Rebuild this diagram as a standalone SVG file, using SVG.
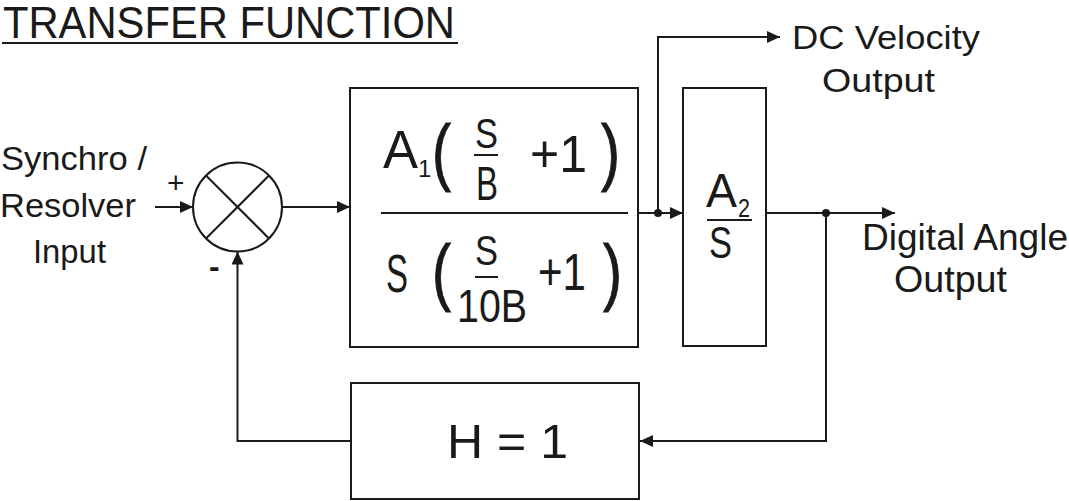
<svg xmlns="http://www.w3.org/2000/svg" width="1069" height="501" viewBox="0 0 1069 501">
<defs>
<marker id="arr" markerUnits="userSpaceOnUse" markerWidth="14" markerHeight="12" refX="13" refY="6" orient="auto">
<path d="M0,0 L13,6 L0,12 Z" fill="#1a1a1a"/>
</marker>
<style>
.ln{fill:none;stroke:#1a1a1a;stroke-width:2}
.box{fill:#fff;stroke:#1a1a1a;stroke-width:2}
text{font-family:"Liberation Sans",Arial,sans-serif;fill:#1a1a1a}
.lbl{font-size:34px}
.lbl2{font-size:36px}
.par{font-size:74px;stroke:#1a1a1a;stroke-width:1}
</style>
</defs>
<rect width="1069" height="501" fill="#fff"/>

<g id="title">
<text x="3" y="38" font-size="44" textLength="452" lengthAdjust="spacingAndGlyphs">TRANSFER FUNCTION</text>
<line x1="2" y1="43" x2="458" y2="43" class="ln"/>
</g>

<g id="input-label">
<text class="lbl" x="1" y="170" textLength="146" lengthAdjust="spacingAndGlyphs">Synchro /</text>
<text class="lbl" x="0" y="217" textLength="136" lengthAdjust="spacingAndGlyphs">Resolver</text>
<text class="lbl" x="33" y="263" textLength="73" lengthAdjust="spacingAndGlyphs">Input</text>
</g>

<g id="sum">
<circle cx="237.5" cy="207" r="44.5" class="ln"/>
<line x1="206" y1="175.5" x2="269" y2="238.5" class="ln"/>
<line x1="269" y1="175.5" x2="206" y2="238.5" class="ln"/>
<text x="167" y="193" font-size="30">+</text>
<text x="209" y="277" font-size="32" font-weight="bold">-</text>
</g>

<g id="forward">
<rect x="350" y="88" width="288" height="259" class="box"/>
<text x="383" y="168" font-size="53" textLength="35" lengthAdjust="spacingAndGlyphs">A</text>
<text x="418" y="177" font-size="24">1</text>
<text class="par" x="432" y="177" textLength="19" lengthAdjust="spacingAndGlyphs">(</text>
<text x="475" y="148" font-size="43" textLength="23" lengthAdjust="spacingAndGlyphs">S</text>
<line x1="474" y1="155" x2="498" y2="155" class="ln"/>
<text x="476" y="200" font-size="48" textLength="22" lengthAdjust="spacingAndGlyphs">B</text>
<text x="530" y="172" font-size="51" textLength="57" lengthAdjust="spacingAndGlyphs">+1</text>
<text class="par" x="601" y="177" textLength="19" lengthAdjust="spacingAndGlyphs">)</text>
<line x1="381" y1="213" x2="628" y2="213" class="ln"/>
<text x="386" y="292" font-size="53" textLength="22" lengthAdjust="spacingAndGlyphs">S</text>
<text class="par" x="432" y="297" textLength="19" lengthAdjust="spacingAndGlyphs">(</text>
<text x="475" y="265" font-size="42" textLength="23" lengthAdjust="spacingAndGlyphs">S</text>
<line x1="475" y1="277" x2="498" y2="277" class="ln"/>
<text x="457" y="322" font-size="47" textLength="70" lengthAdjust="spacingAndGlyphs">10B</text>
<text x="538" y="290" font-size="51" textLength="48" lengthAdjust="spacingAndGlyphs">+1</text>
<text class="par" x="603" y="297" textLength="19" lengthAdjust="spacingAndGlyphs">)</text>
</g>

<g id="integrator">
<rect x="683" y="88" width="83" height="258" class="box"/>
<text x="706" y="207" font-size="49" textLength="31" lengthAdjust="spacingAndGlyphs">A</text>
<text x="738" y="217" font-size="26" textLength="12" lengthAdjust="spacingAndGlyphs">2</text>
<line x1="707" y1="220" x2="752" y2="220" class="ln"/>
<text x="709" y="258" font-size="44" textLength="23" lengthAdjust="spacingAndGlyphs">S</text>
</g>

<g id="feedback">
<rect x="351" y="383" width="288" height="116" class="box"/>
<text x="447" y="458" font-size="48" textLength="121" lengthAdjust="spacingAndGlyphs">H = 1</text>
</g>

<g id="dc-label">
<text class="lbl" x="792" y="49" textLength="188" lengthAdjust="spacingAndGlyphs">DC Velocity</text>
<text class="lbl" x="822" y="92" textLength="113" lengthAdjust="spacingAndGlyphs">Output</text>
</g>

<g id="angle-label">
<text class="lbl2" x="862" y="250" textLength="206" lengthAdjust="spacingAndGlyphs">Digital Angle</text>
<text class="lbl2" x="894" y="292" textLength="113" lengthAdjust="spacingAndGlyphs">Output</text>
</g>

<g id="connectors">
<path d="M155,207 H193" class="ln" marker-end="url(#arr)"/>
<path d="M282,207 H350" class="ln" marker-end="url(#arr)"/>
<path d="M638,213 H683" class="ln" marker-end="url(#arr)"/>
<path d="M658,213 V37 H780" class="ln" marker-end="url(#arr)"/>
<path d="M766,213 H895" class="ln" marker-end="url(#arr)"/>
<path d="M826,213 V441 H640" class="ln" marker-end="url(#arr)"/>
<path d="M351,441 H237.5 V251.5" class="ln" marker-end="url(#arr)"/>
<circle cx="658" cy="213" r="4" fill="#1a1a1a"/>
<circle cx="826" cy="213" r="4" fill="#1a1a1a"/>
</g>
</svg>
